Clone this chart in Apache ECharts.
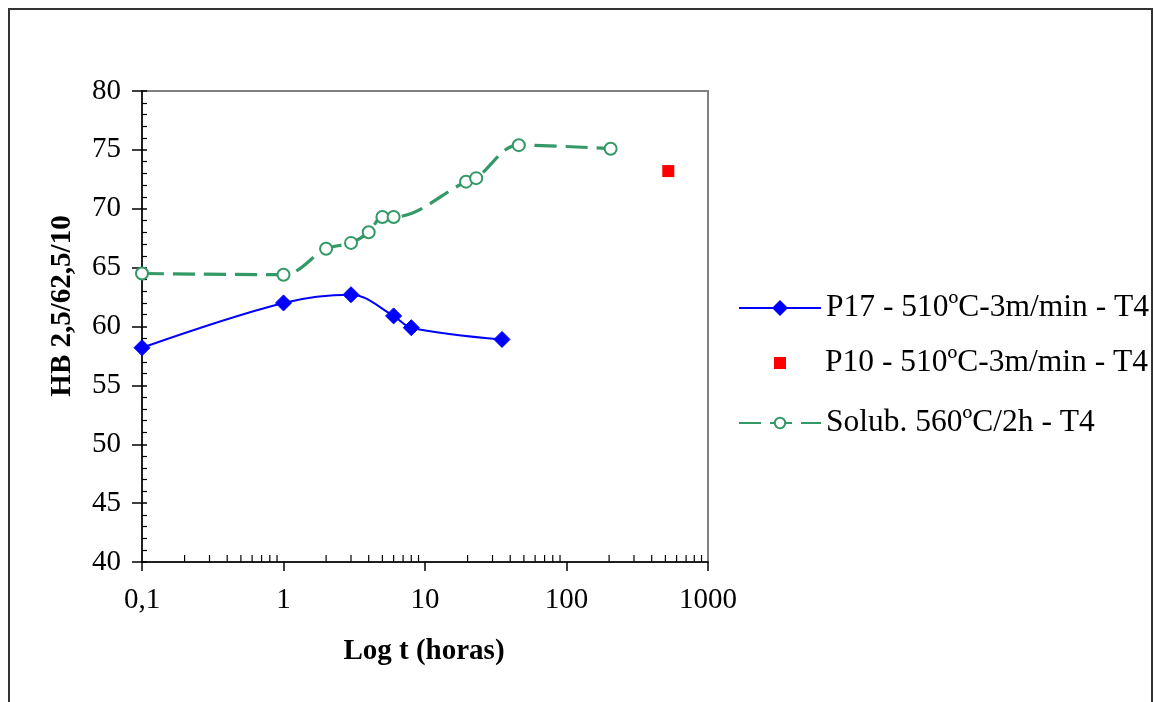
<!DOCTYPE html>
<html>
<head>
<meta charset="utf-8">
<script src="https://cdn.jsdelivr.net/npm/echarts@6/dist/echarts.min.js"></script>
<style>
html,body{margin:0;padding:0;background:#fff;}
#c{width:1156px;height:702px;}
</style>
</head>
<body>
<div id="c"></div>
<script>
// Data
const p17Name = 'P17 - 510ºC-3m/min - T4';
const p10Name = 'P10 - 510ºC-3m/min - T4';
const solName = 'Solub. 560ºC/2h - T4';
const p17Time = [0.1, 1, 3, 6, 8, 35];
const p17HB   = [58.2, 62.0, 62.7, 60.9, 59.9, 58.9];
const p10Time = [524];
const p10HB   = [73.2];
const solTime = [0.1, 1, 2, 3, 4, 5, 6, 19.5, 23, 46, 205];
const solHB   = [64.5, 64.4, 66.6, 67.1, 68.0, 69.3, 69.3, 72.3, 72.6, 75.4, 75.1];
const xMinorTicks = [0.2,0.3,0.4,0.5,0.6,0.7,0.8,0.9, 2,3,4,5,6,7,8,9, 20,30,40,50,60,70,80,90, 200,300,400,500,600,700,800,900];
const yAxisName = 'HB 2,5/62,5/10';
const xAxisName = 'Log t (horas)';

const zip = (a, b) => a.map((v, i) => [v, b[i]]);
const FONT = '"Liberation Serif", "Times New Roman", serif';
const legendText = {color: '#000', fontFamily: FONT, fontSize: 31.5};

const chart = echarts.init(document.getElementById('c'), null, {renderer: 'canvas'});
const option = {
  backgroundColor: '#ffffff',
  animation: false,
  grid: {left: 142, right: 1156 - 708, top: 91, bottom: 702 - 562, show: true, borderColor: '#808080', borderWidth: 2, backgroundColor: 'transparent'},
  xAxis: {
    type: 'log', logBase: 10, min: 0.1, max: 1000,
    axisLine: {show: true, onZero: false, lineStyle: {color: '#000', width: 1.5}},
    axisTick: {show: true, inside: false, length: 9, lineStyle: {color: '#000', width: 1.5}},
    splitLine: {show: false},
    axisLabel: {
      margin: 24, color: '#000', fontFamily: FONT, fontSize: 29,
      formatter: v => String(+(+v).toPrecision(6)).replace('.', ',')
    }
  },
  yAxis: [{
    type: 'value', min: 40, max: 80, interval: 5,
    axisLine: {show: true, lineStyle: {color: '#000', width: 1.5}},
    axisTick: {show: true, inside: false, length: 10, lineStyle: {color: '#000', width: 1.5}},
    splitLine: {show: false},
    axisLabel: {margin: 21, color: '#000', fontFamily: FONT, fontSize: 29}
  }, {
    type: 'value', min: 40, max: 80, interval: 5, position: 'left', offset: 0,
    axisLine: {show: false},
    axisTick: {show: true, inside: true, length: 5, lineStyle: {color: '#000', width: 1.5}},
    minorTick: {show: true, splitNumber: 5, length: 5, lineStyle: {color: '#000', width: 1.2}},
    splitLine: {show: false},
    axisLabel: {show: false}
  }],
  legend: [{
    orient: 'vertical', left: 733, top: 287,
    itemWidth: 82, itemHeight: 20,
    textStyle: legendText,
    data: [p17Name]
  }, {
    orient: 'vertical', left: 733, top: 342,
    itemWidth: 82, itemHeight: 12,
    textStyle: legendText,
    data: [{name: p10Name, icon: 'path://M0,0L0,0M82,12L82,12M36,0L48,0L48,12L36,12Z'}]
  }, {
    orient: 'vertical', left: 733, top: 402,
    itemWidth: 82, itemHeight: 13,
    textStyle: legendText,
    data: [solName]
  }],
  graphic: [
    {type: 'rect', shape: {x: 9, y: 9, width: 1143, height: 720}, style: {fill: 'none', stroke: '#333', lineWidth: 2}, silent: true},
    {type: 'text', x: 63, y: 306, rotation: Math.PI / 2, style: {text: yAxisName, font: 'bold 29px ' + FONT, fill: '#000', align: 'center', verticalAlign: 'middle'}},
    {type: 'text', x: 424, y: 652, style: {text: xAxisName, font: 'bold 29px ' + FONT, fill: '#000', align: 'center', verticalAlign: 'middle'}}
  ],
  series: [
    {
      name: p17Name, type: 'line', data: zip(p17Time, p17HB), smooth: 0.35,
      symbol: 'diamond', symbolSize: 16,
      lineStyle: {color: '#0000ff', width: 2},
      itemStyle: {color: '#0000ff', borderColor: '#0000ff'}
    },
    {
      name: p10Name, type: 'scatter', data: zip(p10Time, p10HB),
      symbol: 'rect', symbolSize: 12,
      itemStyle: {color: '#ff0000', opacity: 1}
    },
    {
      name: solName, type: 'line', data: zip(solTime, solHB), smooth: 0.35,
      symbol: 'circle', symbolSize: 12, showSymbol: true,
      lineStyle: {color: '#339966', width: 3.2, type: [22, 9]},
      itemStyle: {color: '#ffffff', borderColor: '#339966', borderWidth: 2}
    },
    {
      type: 'custom', silent: true, z: 3,
      data: xMinorTicks.map(v => [v, 40]),
      encode: {x: 0, y: 1},
      renderItem: (params, api) => {
        const p = api.coord([api.value(0), api.value(1)]);
        return {type: 'line', shape: {x1: p[0], y1: p[1], x2: p[0], y2: p[1] - 7}, style: {stroke: '#000', lineWidth: 1.2}};
      }
    }
  ]
};
chart.setOption(option);
</script>
</body>
</html>
